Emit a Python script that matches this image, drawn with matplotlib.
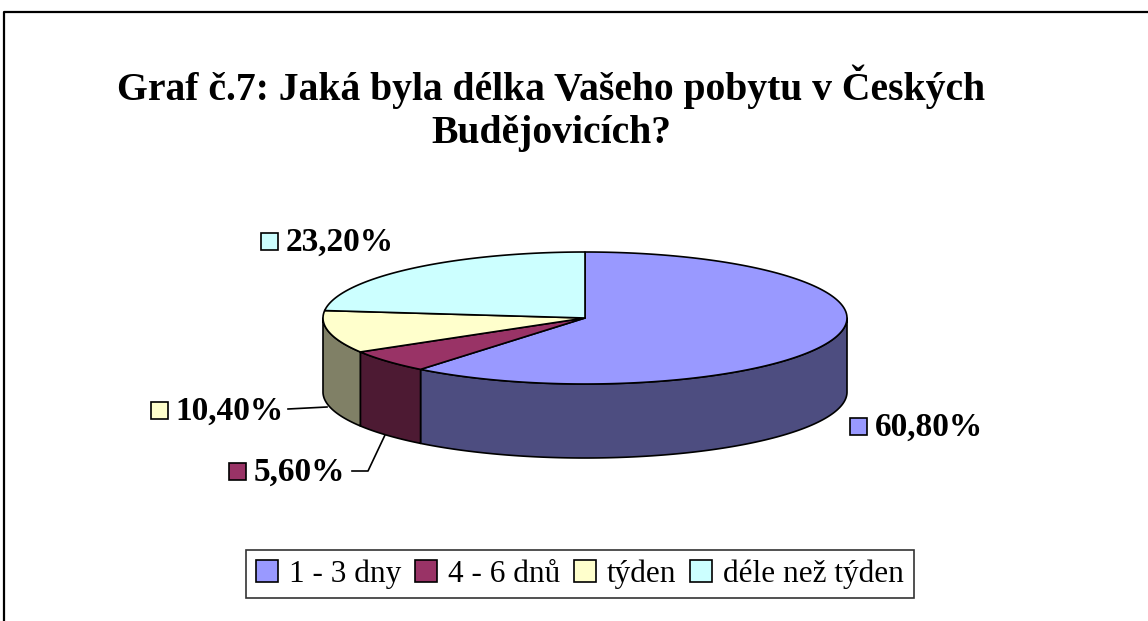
import numpy as np
import matplotlib
matplotlib.use('Agg')
import matplotlib.pyplot as plt
from matplotlib.patches import Polygon, Rectangle, Patch

categories = ['1 - 3 dny', '4 - 6 dnů', 'týden', 'déle než týden']
values = [60.8, 5.6, 10.4, 23.2]
value_labels = ['60,80%', '5,60%', '10,40%', '23,20%']
top_colors = ['#9999FF', '#993366', '#FFFFCC', '#CCFFFF']
side_colors = ['#4D4D80', '#4D1A33', '#808066', '#668080']
title = 'Graf č.7: Jaká byla délka Vašeho pobytu v Českých\nBudějovicích?'

W, H = 1148, 621
fig = plt.figure(figsize=(W / 100, H / 100), dpi=100)
ax = fig.add_axes([0, 0, 1, 1])
ax.set_xlim(0, W)
ax.set_ylim(H, 0)
ax.axis('off')

serif = ['Liberation Serif', 'DejaVu Serif']

# outer frame (top and left edges visible)
ax.plot([4, 4, W + 5], [H + 5, 12, 12], color='black', lw=1.6, solid_capstyle='butt')

# pie geometry
cx, cy, a, b, depth = 585, 318, 262, 66, 74
lw = 1.2


def arc(t0, t1, dz=0, n=200):
    t = np.radians(np.linspace(t0, t1, n))
    return np.column_stack([cx + a * np.cos(t), cy - b * np.sin(t) + dz])


fracs = np.array(values) / np.sum(values)
starts = 90 - 360 * np.concatenate([[0], np.cumsum(fracs)[:-1]])
ends = starts - 360 * fracs

# visible sides (front half)
for i in range(len(values)):
    for shift in (-360, 0, 360):
        hi = min(starts[i] + shift, 0)
        lo = max(ends[i] + shift, -180)
        if hi > lo:
            top = arc(hi, lo)
            bot = arc(lo, hi, dz=depth)
            ax.add_patch(Polygon(np.vstack([top, bot]), closed=True,
                                 facecolor=side_colors[i], edgecolor='black',
                                 lw=lw, joinstyle='round', zorder=2))

# tops
for i in range(len(values)):
    pts = np.vstack([[cx, cy], arc(starts[i], ends[i])])
    ax.add_patch(Polygon(pts, closed=True, facecolor=top_colors[i],
                         edgecolor='black', lw=lw, joinstyle='round', zorder=3))

# data labels with legend keys
label_pos = [(858, 426), (237, 471), (159, 410), (269, 241)]
ks = 17
for i, (kx, ky) in enumerate(label_pos):
    ax.add_patch(Rectangle((kx - ks / 2, ky - ks / 2), ks, ks,
                           facecolor=top_colors[i], edgecolor='black', lw=1.2, zorder=4))
    ax.text(kx + ks / 2 + 8, ky + 1, value_labels[i], family=serif, weight='bold',
            fontsize=24, ha='left', va='center', zorder=4)

# leader lines
ax.plot([288, 327], [409, 407], color='black', lw=1.2)
ax.plot([352, 368, 385], [471, 471, 435], color='black', lw=1.2)

# title
fig.text(551 / W, 1 - 108 / H, title, family=serif, weight='bold', fontsize=28.5,
         ha='center', va='center', linespacing=1.2)

# legend
handles = [Patch(facecolor=c, edgecolor='black', lw=1.2) for c in top_colors]
leg = fig.legend(handles, categories, loc='center', bbox_to_anchor=(580 / W, 1 - 574 / H),
                 ncol=4, frameon=True, fancybox=False, edgecolor='black',
                 prop={'family': serif, 'size': 22.5}, handlelength=0.7, handleheight=0.7,
                 handletextpad=0.35, columnspacing=0.45, borderpad=0.3, borderaxespad=0)
leg.get_frame().set_linewidth(1.2)

fig.savefig('out.png', dpi=100)
